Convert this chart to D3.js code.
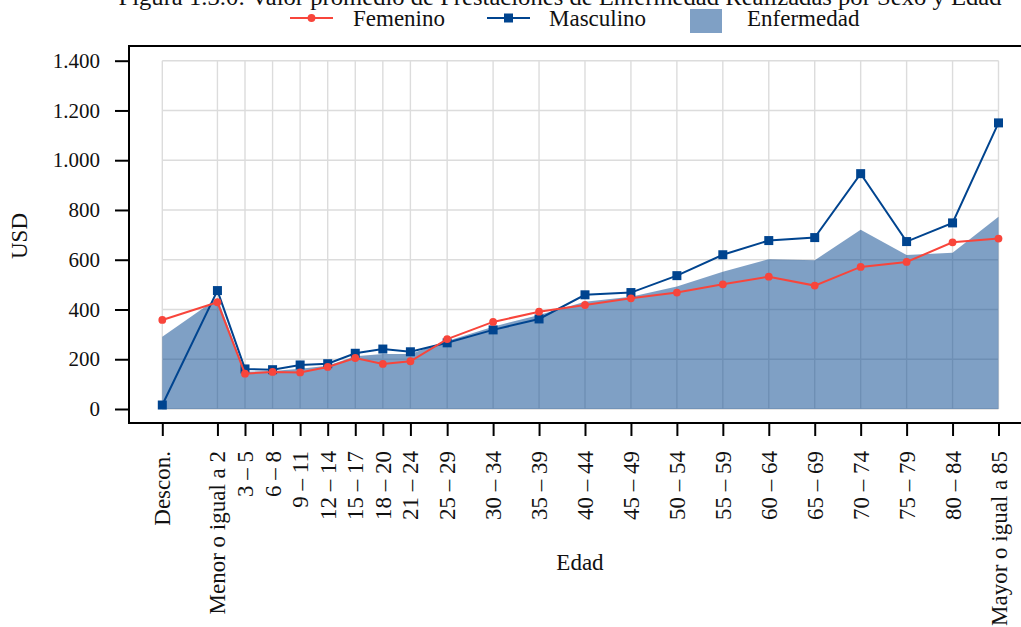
<!DOCTYPE html>
<html>
<head>
<meta charset="utf-8">
<script src="https://cdn.jsdelivr.net/npm/d3@7"></script>
<style>
  html, body { margin: 0; padding: 0; background: #fff; }
  svg { display: block; font-family: "Liberation Serif", "Times New Roman", serif; }
</style>
</head>
<body>
<svg id="chart" width="1021" height="627"></svg>
<script>
// ---- Data ----
const categories = ["Descon.", "Menor o igual a 2", "3 – 5", "6 – 8", "9 – 11", "12 – 14", "15 – 17",
  "18 – 20", "21 – 24", "25 – 29", "30 – 34", "35 – 39", "40 – 44", "45 – 49", "50 – 54",
  "55 – 59", "60 – 64", "65 – 69", "70 – 74", "75 – 79", "80 – 84", "Mayor o igual a 85"];
const agePositions = [-6, 0, 3, 6, 9, 12, 15, 18, 21, 25, 30, 35, 40, 45, 50, 55, 60, 65, 70, 75, 80, 85];
const femenino = [358, 429, 142, 149, 147, 169, 205, 181, 192, 281, 350, 391, 418, 445, 468, 501, 532, 496, 571, 591, 670, 685];
const masculino = [16, 476, 161, 158, 177, 182, 224, 241, 230, 266, 318, 362, 459, 468, 536, 620, 677, 689, 946, 673, 748, 1150];
const enfermedad = [290, 445, 150, 153, 162, 174, 212, 221, 221, 273, 331, 378, 431, 451, 492, 552, 602, 598, 720, 619, 628, 773];
const yTicks = [0, 200, 400, 600, 800, 1000, 1200, 1400];
const legendLabels = ["Femenino", "Masculino", "Enfermedad"];
const titleText = "Figura 1.3.0: Valor promedio de Prestaciones de Enfermedad Realizadas por Sexo y Edad";
const xTitle = "Edad";
const yTitle = "USD";

// ---- Styles ----
const RED = "#f8453b";
const BLUE = "#00448f";
const AREA = "#00428c";
const GRID = "#dcdcdc";

const svg = d3.select("#chart");
const locale = d3.formatLocale({decimal: ",", thousands: ".", grouping: [3], currency: ["", ""]});
const fmt = locale.format(",d");

const x = d3.scaleLinear().domain([-6, 85]).range([162.3, 998.5]);
const y = d3.scaleLinear().domain([0, 1400]).range([409, 60.7]);

const rows = categories.map((c, i) => ({
  cat: c, pos: agePositions[i], f: femenino[i], m: masculino[i], e: enfermedad[i]
}));

// Grid
const grid = svg.append("g");
grid.selectAll("line.h").data(yTicks).join("line")
  .attr("x1", x(-6)).attr("x2", x(85))
  .attr("y1", d => y(d)).attr("y2", d => y(d))
  .attr("stroke", GRID).attr("stroke-width", 1.4);
grid.selectAll("line.v").data(agePositions).join("line")
  .attr("x1", d => x(d)).attr("x2", d => x(d))
  .attr("y1", y(0)).attr("y2", y(1400))
  .attr("stroke", GRID).attr("stroke-width", 1.4);

// Area
svg.append("path").datum(rows)
  .attr("d", d3.area().x(d => x(d.pos)).y0(y(0)).y1(d => y(d.e)))
  .attr("fill", AREA).attr("fill-opacity", 0.5);

// Masculino
svg.append("path").datum(rows)
  .attr("d", d3.line().x(d => x(d.pos)).y(d => y(d.m)))
  .attr("fill", "none").attr("stroke", BLUE).attr("stroke-width", 2);
svg.selectAll("rect.m").data(rows).join("rect")
  .attr("x", d => x(d.pos) - 4.5).attr("y", d => y(d.m) - 4.5)
  .attr("width", 9).attr("height", 9).attr("fill", BLUE);

// Femenino
svg.append("path").datum(rows)
  .attr("d", d3.line().x(d => x(d.pos)).y(d => y(d.f)))
  .attr("fill", "none").attr("stroke", RED).attr("stroke-width", 2);
svg.selectAll("circle.f").data(rows).join("circle")
  .attr("cx", d => x(d.pos)).attr("cy", d => y(d.f))
  .attr("r", 3.9).attr("fill", RED);

// Frame
svg.append("path")
  .attr("d", "M1030,46 H129 V423 H1030")
  .attr("fill", "none").attr("stroke", "#000").attr("stroke-width", 2);

// Y axis
const yAxis = svg.append("g").attr("transform", "translate(129,0)")
  .call(d3.axisLeft(y).tickValues(yTicks).tickFormat(fmt).tickSize(14).tickPadding(15));
yAxis.select(".domain").remove();
yAxis.selectAll(".tick line").attr("stroke", "#000").attr("stroke-width", 2);
yAxis.selectAll(".tick text").attr("font-size", 21).attr("fill", "#111")
  .attr("font-family", "Liberation Serif, serif");

// X axis
const xAxis = svg.append("g").attr("transform", "translate(0,423)")
  .call(d3.axisBottom(x).tickValues(agePositions)
    .tickFormat((d, i) => categories[i]).tickSize(13).tickPadding(0));
xAxis.select(".domain").remove();
xAxis.selectAll(".tick line").attr("stroke", "#000").attr("stroke-width", 2);
xAxis.selectAll(".tick text")
  .attr("font-size", 23).attr("fill", "#111")
  .attr("font-family", "Liberation Serif, serif")
  .attr("text-anchor", "end")
  .attr("dy", null)
  .attr("y", 0).attr("x", 0)
  .attr("transform", "translate(7.5,28) rotate(-90)");

// Axis titles
svg.append("text").attr("x", 580).attr("y", 570).attr("text-anchor", "middle")
  .attr("font-size", 23).attr("fill", "#111").text(xTitle);
svg.append("text").attr("transform", "translate(27,236) rotate(-90)")
  .attr("text-anchor", "middle").attr("font-size", 23).attr("fill", "#111").text(yTitle);

// Title (partly cut at top, as in the reference)
svg.append("text").attr("x", 560).attr("y", 5).attr("text-anchor", "middle")
  .attr("font-size", 23).attr("fill", "#111")
  .attr("textLength", 883).attr("lengthAdjust", "spacingAndGlyphs").text(titleText);

// Legend
const lg = svg.append("g");
lg.append("line").attr("x1", 290).attr("x2", 333).attr("y1", 18).attr("y2", 18)
  .attr("stroke", RED).attr("stroke-width", 2);
lg.append("circle").attr("cx", 311.5).attr("cy", 18).attr("r", 3.9).attr("fill", RED);
lg.append("text").attr("x", 353).attr("y", 26).attr("font-size", 23).attr("fill", "#111").text(legendLabels[0]);
lg.append("line").attr("x1", 487).attr("x2", 530).attr("y1", 18).attr("y2", 18)
  .attr("stroke", BLUE).attr("stroke-width", 2);
lg.append("rect").attr("x", 504).attr("y", 13.5).attr("width", 9).attr("height", 9).attr("fill", BLUE);
lg.append("text").attr("x", 549).attr("y", 26).attr("font-size", 23).attr("fill", "#111").text(legendLabels[1]);
lg.append("rect").attr("x", 690).attr("y", 9).attr("width", 32).attr("height", 24)
  .attr("fill", AREA).attr("fill-opacity", 0.5);
lg.append("text").attr("x", 747).attr("y", 26).attr("font-size", 23).attr("fill", "#111").text(legendLabels[2]);
</script>
</body>
</html>
